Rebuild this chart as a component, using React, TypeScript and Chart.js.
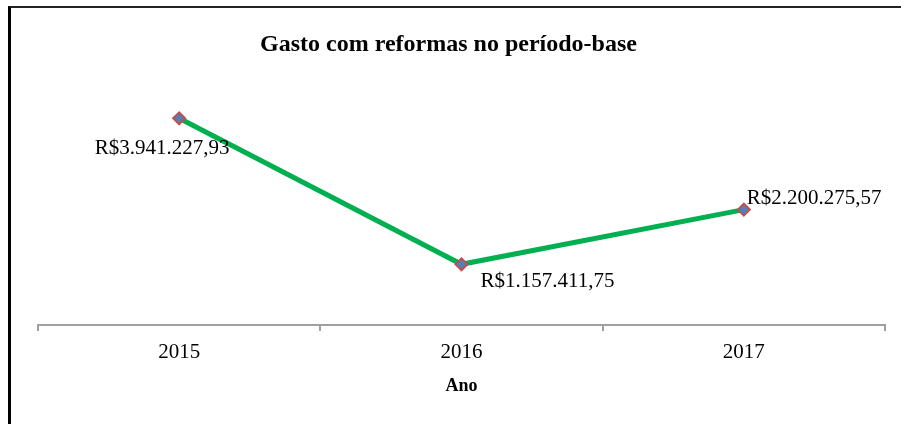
import React, { useEffect, useRef } from "react";
import { Chart, registerables } from "chart.js";

Chart.register(...registerables);

const categories: string[] = ["2015", "2016", "2017"];
const gastoValues: number[] = [3941227.93, 1157411.75, 2200275.57];
const dataLabels: string[] = ["R$3.941.227,93", "R$1.157.411,75", "R$2.200.275,57"];
const chartTitle = "Gasto com reformas no período-base";
const xAxisTitle = "Ano";

const SERIF = '"Liberation Serif", "Times New Roman", serif';

// label placement relative to each point (style only)
const labelPlacement = [
  { dx: -17, dy: 30, align: "center" as CanvasTextAlign },
  { dx: 19, dy: 17, align: "left" as CanvasTextAlign },
  { dx: 3, dy: -11, align: "left" as CanvasTextAlign },
];

const pointLabelPlugin = {
  id: "pointLabels",
  afterDatasetsDraw(chart: any) {
    const ctx = chart.ctx;
    const meta = chart.getDatasetMeta(0);
    ctx.save();
    ctx.font = `21px ${SERIF}`;
    ctx.fillStyle = "#000";
    ctx.textBaseline = "middle";
    meta.data.forEach((el: any, i: number) => {
      const p = labelPlacement[i];
      ctx.textAlign = p.align;
      ctx.fillText(dataLabels[i], el.x + p.dx, el.y + p.dy);
    });
    ctx.restore();
  },
};

const chartTitlePlugin = {
  id: "chartTitleCentered",
  afterDraw(chart: any) {
    const ctx = chart.ctx;
    ctx.save();
    ctx.font = `bold 24px ${SERIF}`;
    ctx.fillStyle = "#000";
    ctx.textAlign = "center";
    ctx.textBaseline = "middle";
    ctx.fillText(chartTitle, chart.width / 2 - 2, 45);
    ctx.restore();
  },
};

export default function App() {
  const ref = useRef<HTMLCanvasElement | null>(null);
  useEffect(() => {
    if (!ref.current) return;
    const chart = new Chart(ref.current, {
      type: "line",
      data: {
        labels: categories,
        datasets: [
          {
            data: gastoValues,
            borderColor: "#00b050",
            borderWidth: 5,
            pointStyle: "rectRot",
            pointRadius: 6,
            pointBackgroundColor: "#4f81bd",
            pointBorderColor: "#c0504d",
            pointBorderWidth: 2,
            tension: 0,
          },
        ],
      },
      options: {
        animation: false,
        responsive: false,
        layout: { padding: { left: 38, right: 16, top: 89, bottom: 0 } },
        plugins: {
          legend: { display: false },
          tooltip: { enabled: false },
          title: { display: false },
        },
        scales: {
          y: {
            display: false,
            min: 0,
            max: 4500000,
          },
          x: {
            offset: true,
            grid: {
              offset: true,
              drawOnChartArea: false,
              drawTicks: true,
              tickLength: 6,
              color: "#a0a0a0",
              lineWidth: 2,
            },
            border: { display: true, color: "#a0a0a0", width: 2 },
            ticks: {
              color: "#000",
              font: { family: SERIF, size: 21 },
              padding: 9,
            },
            title: {
              display: true,
              text: xAxisTitle,
              color: "#000",
              font: { family: SERIF, size: 18, weight: "bold" },
              padding: { top: 0, bottom: 27 },
            },
            afterFit(scale: any) {
              scale.height = 99;
            },
          },
        },
      },
      plugins: [pointLabelPlugin, chartTitlePlugin],
    });
    return () => chart.destroy();
  }, []);

  return (
    <div style={{ position: "fixed", left: 0, top: 0, width: 901, height: 424, background: "#fff", overflow: "hidden" }}>
      <div
        style={{
          position: "absolute",
          left: 8,
          top: 6,
          width: 1000,
          height: 1000,
          borderLeft: "3px solid #000",
          borderTop: "2px solid #222",
        }}
      />
      <canvas ref={ref} width={901} height={424} style={{ position: "absolute", left: 0, top: 0, width: 901, height: 424 }} />
    </div>
  );
}
